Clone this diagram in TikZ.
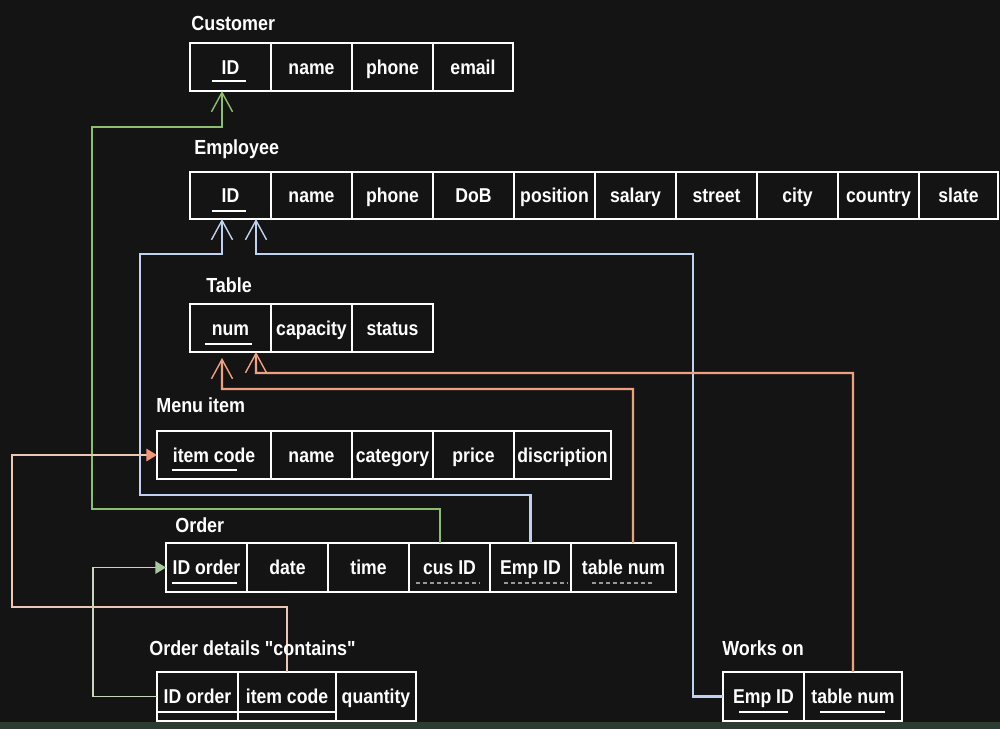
\documentclass[tikz,border=0pt]{standalone}
\usepackage{fontspec}
\setmainfont{Liberation Sans}[FakeStretch=0.88, Ligatures=TeXOff]
\usetikzlibrary{arrows.meta}
\definecolor{bgdark}{RGB}{20,20,20}
\definecolor{barcol}{RGB}{44,60,50}
\definecolor{custgreen}{RGB}{140,190,110}
\definecolor{empblue}{RGB}{192,210,240}
\definecolor{tabsalmon}{RGB}{240,160,130}
\definecolor{itempeach}{RGB}{235,200,182}
\definecolor{itemhead}{RGB}{242,150,120}
\definecolor{ordpale}{RGB}{200,214,190}
\definecolor{ordhead}{RGB}{168,200,158}
\tikzset{
    cell/.style={draw=white, line width=0.9pt, text=white, font=\fontsize{11.4}{13.5}\selectfont\bfseries,
        minimum width=#1, minimum height=0.96cm, inner sep=0pt, outer sep=0pt,
        text height=8.4pt, text depth=0.4pt},
    cell/.default=1.62cm,
    title/.style={text=white, font=\fontsize{11.6}{13.5}\selectfont\bfseries, anchor=west, inner sep=0pt,
        text height=8.4pt, text depth=0.4pt},
    keyline/.style={white, line width=1.4pt},
    fkline/.style={gray!80, line width=1.4pt, dash pattern=on 2.2pt off 1.8pt},
    barbtip/.style={-{Straight Barb[length=11pt,width=12pt,line width=0.8pt]}},
    custlink/.style={barbtip, custgreen, line width=1.3pt},
    emplink/.style={barbtip, empblue, line width=1.2pt},
    tablink/.style={barbtip, tabsalmon, line width=1.3pt},
    itemlink/.style={-{Triangle[length=6pt,width=7pt,color=itemhead]}, itempeach, line width=1pt},
    orderlink/.style={-{Triangle[length=6pt,width=7pt,color=ordhead]}, ordpale, line width=1pt}
}
\begin{document}
\begin{tikzpicture}[x=0.02cm, y=-0.02cm]
            \fill[bgdark] (0,0) rectangle (1000,729);
            \fill[barcol] (0,722) rectangle (1000,729);

            \node[cell] (cid) at (230.5,67) {ID};
            \node[cell] (cname) at (311.5,67) {name};
            \node[cell] (cphone) at (392.5,67) {phone};
            \node[cell=1.6cm] (cemail) at (473,67) {email};

            \node[cell, minimum height=0.94cm] (eid) at (230.5,195.5) {ID};
            \node[cell, minimum height=0.94cm] (ename) at (311.5,195.5) {name};
            \node[cell, minimum height=0.94cm] (ephone) at (392.5,195.5) {phone};
            \node[cell, minimum height=0.94cm] (edob) at (473.5,195.5) {DoB};
            \node[cell, minimum height=0.94cm] (epos) at (554.5,195.5) {position};
            \node[cell, minimum height=0.94cm] (esal) at (635.5,195.5) {salary};
            \node[cell, minimum height=0.94cm] (estreet) at (716.5,195.5) {street};
            \node[cell, minimum height=0.94cm] (ecity) at (797.5,195.5) {city};
            \node[cell, minimum height=0.94cm] (ecountry) at (878.5,195.5) {country};
            \node[cell=1.58cm, minimum height=0.94cm] (eslate) at (958.5,195.5) {slate};

            \node[cell] (tnum) at (230.5,328) {num};
            \node[cell] (tcap) at (311.5,328) {capacity};
            \node[cell] (tstat) at (392.5,328) {status};

            \node[cell=2.28cm] (mcode) at (214,455) {item code};
            \node[cell] (mname) at (311.5,455) {name};
            \node[cell] (mcat) at (392.5,455) {category};
            \node[cell] (mprice) at (473.5,455) {price};
            \node[cell=1.94cm] (mdesc) at (562.5,455) {discription};

            \node[cell, minimum height=0.98cm] (oid) at (206.5,567.5) {ID order};
            \node[cell, minimum height=0.98cm] (odate) at (287.5,567.5) {date};
            \node[cell, minimum height=0.98cm] (otime) at (368.5,567.5) {time};
            \node[cell, minimum height=0.98cm] (ocus) at (449.5,567.5) {cus ID};
            \node[cell, minimum height=0.98cm] (oemp) at (530.5,567.5) {Emp ID};
            \node[cell=2.1cm, minimum height=0.98cm] (otab) at (623.5,567.5) {table num};

            \node[cell, minimum height=0.98cm] (dord) at (197.5,696.5) {ID order};
            \node[cell=1.96cm, minimum height=0.98cm] (ditem) at (287,696.5) {item code};
            \node[cell=1.6cm, minimum height=0.98cm] (dqty) at (376,696.5) {quantity};

            \node[cell, minimum height=0.98cm] (wemp) at (763.5,696.5) {Emp ID};
            \node[cell=1.96cm, minimum height=0.98cm] (wtab) at (853,696.5) {table num};

            \draw[white, line width=0.9pt] (157,712) -- (336,712);
            \draw[keyline] (212,81) -- (246,81);
            \draw[keyline] (212,211) -- (246,211);
            \draw[keyline] (205,344) -- (252,344);
            \draw[keyline] (172,470) -- (237,470);
            \draw[keyline] (172,583) -- (237,583);
            \draw[fkline] (416,583) -- (480,583);
            \draw[fkline] (504,583) -- (568,583);
            \draw[fkline] (592,583) -- (653,583);
            \draw[keyline] (739,712) -- (788,712);
            \draw[keyline] (820,712) -- (885,712);

            \draw[custlink] ([xshift=-0.19cm]ocus.north) |- (92,509) -- (92,127) -| ([xshift=-0.17cm]cid.south);
            \draw[emplink] (oemp.north) |- (140,495) -- (140,254) -| ([xshift=-0.17cm]eid.south);
            \draw[emplink] (wemp.west) -| (693,254) -| ([xshift=0.51cm]eid.south);
            \draw[tablink, shorten >=0.12cm] ([xshift=0.19cm]otab.north) |- (222,389) -- ([xshift=-0.17cm]tnum.south);
            \draw[tablink] (wtab.north) |- (256,373) -- ([xshift=0.51cm]tnum.south);
            \draw[itemlink] (ditem.north) |- (12,607) |- (mcode.west);
            \draw[orderlink] (dord.west) -| (93,567.5) -- (oid.west);

            \node[title] (custtitle) at (191,23) {Customer};
            \node[title] (emptitle) at (194,147) {Employee};
            \node[title] (tabtitle) at (206,285) {Table};
            \node[title] (menutitle) at (156,405) {Menu item};
            \node[title] (ordtitle) at (175,525) {Order};
            \node[title] (dettitle) at (149,648) {Order details "contains"};
            \node[title] (worktitle) at (722,648) {Works on};
        \end{tikzpicture}
\end{document}
